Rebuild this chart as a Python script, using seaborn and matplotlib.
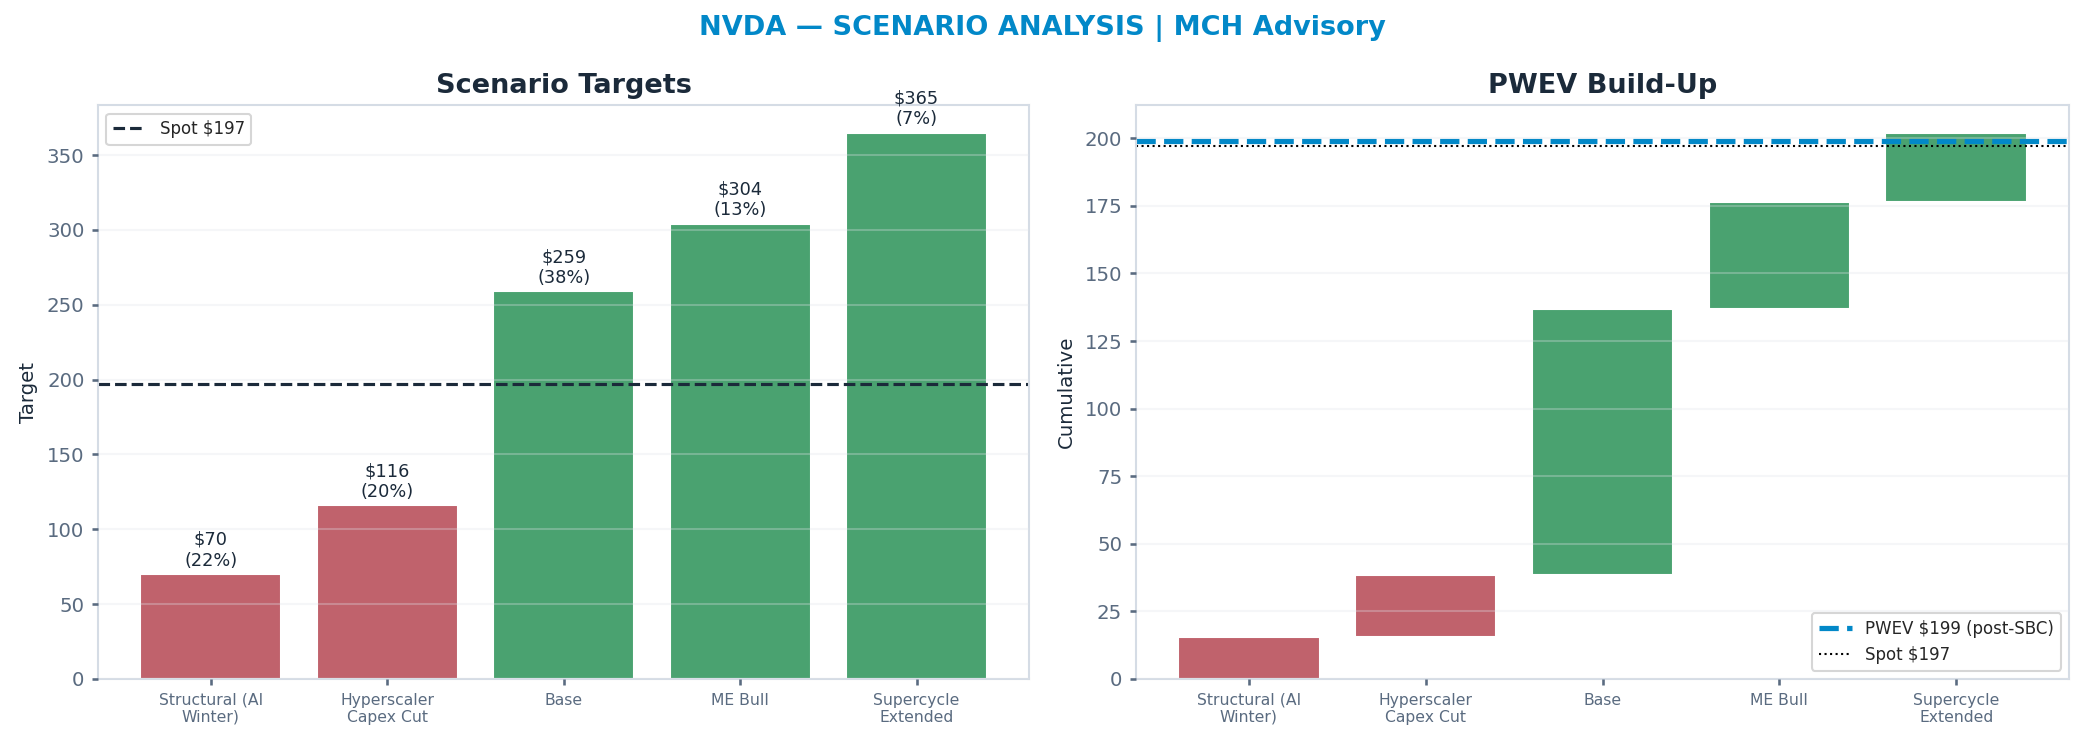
import seaborn as sns
import matplotlib.pyplot as plt
import numpy as np

scenarios = ["Structural (AI\nWinter)", "Hyperscaler\nCapex Cut", "Base", "ME Bull", "Supercycle\nExtended"]
targets = [70, 116, 259, 304, 365]
probs = [0.22, 0.20, 0.38, 0.13, 0.07]
bearish = [True, True, False, False, False]
spot = 197
pwev = 199

RED = "#c0626c"
GREEN = "#4aa270"
DARK = "#1b2a3a"
BLUE = "#0288c8"
SLATE = "#5a6b80"
EDGE = "#d5dce5"

sns.set_theme(style="white")
plt.rcParams["font.family"] = ["DejaVu Sans"]

fig = plt.figure(figsize=(13.893, 4.947), dpi=150)
ax1 = fig.add_axes([0.047, 0.085, 0.447, 0.773])
ax2 = fig.add_axes([0.545, 0.085, 0.448, 0.773])

contrib = [t * p for t, p in zip(targets, probs)]
cum = np.cumsum(contrib)
bottoms = cum - np.array(contrib)


def style_ax(ax):
    for s in ax.spines.values():
        s.set_color(EDGE)
        s.set_linewidth(1.0)
    ax.grid(axis="y", color="#e0e4ea", linewidth=1.0, alpha=0.3)
    ax.set_axisbelow(False)
    ax.tick_params(axis="y", labelsize=9.5, colors=SLATE, length=3, left=True, color=SLATE)
    ax.tick_params(axis="x", labelsize=7.5, colors=SLATE, length=3, bottom=True, color=SLATE)
    ax.set_xlim(-0.64, 4.64)


# left: scenario targets
sns.barplot(x=scenarios, y=targets, color=GREEN, width=0.8, saturation=1, ax=ax1)
for patch, t in zip(ax1.patches, targets):
    patch.set_facecolor(RED if t < spot else GREEN)
ax1.axhline(spot, color=DARK, linestyle="--", linewidth=1.5, label=f"Spot ${spot}")
for i, (t, p) in enumerate(zip(targets, probs)):
    ax1.text(i, t + 3, f"${t}\n({p:.0%})", ha="center", va="bottom", fontsize=8.5, color=DARK)
ax1.set_title("Scenario Targets", fontsize=13, fontweight="bold", color=DARK)
ax1.set_ylabel("Target", fontsize=9.5, color=DARK)
ax1.set_ylim(0, 383.25)
ax1.legend(loc="upper left", fontsize=8, frameon=True, edgecolor="#cccccc")
style_ax(ax1)

# right: PWEV waterfall
sns.barplot(x=scenarios, y=contrib, bottom=bottoms, color=GREEN, width=0.8, saturation=1, ax=ax2)
for patch, b in zip(ax2.patches, bearish):
    patch.set_facecolor(RED if b else GREEN)
ax2.axhline(pwev, color=BLUE, linestyle="--", linewidth=2.5, label=f"PWEV ${pwev} (post-SBC)")
ax2.axhline(spot, color="black", linestyle=":", linewidth=1.0, label=f"Spot ${spot}")
ax2.set_title("PWEV Build-Up", fontsize=13, fontweight="bold", color=DARK)
ax2.set_ylabel("Cumulative", fontsize=9.5, color=DARK)
ax2.set_ylim(0, cum[-1] * 1.05)
ax2.legend(loc="lower right", fontsize=8, frameon=True, edgecolor="#cccccc")
style_ax(ax2)

fig.suptitle("NVDA — SCENARIO ANALYSIS | MCH Advisory", fontsize=13, fontweight="bold", color=BLUE, y=0.98)

fig.savefig("out.png", dpi=150)
